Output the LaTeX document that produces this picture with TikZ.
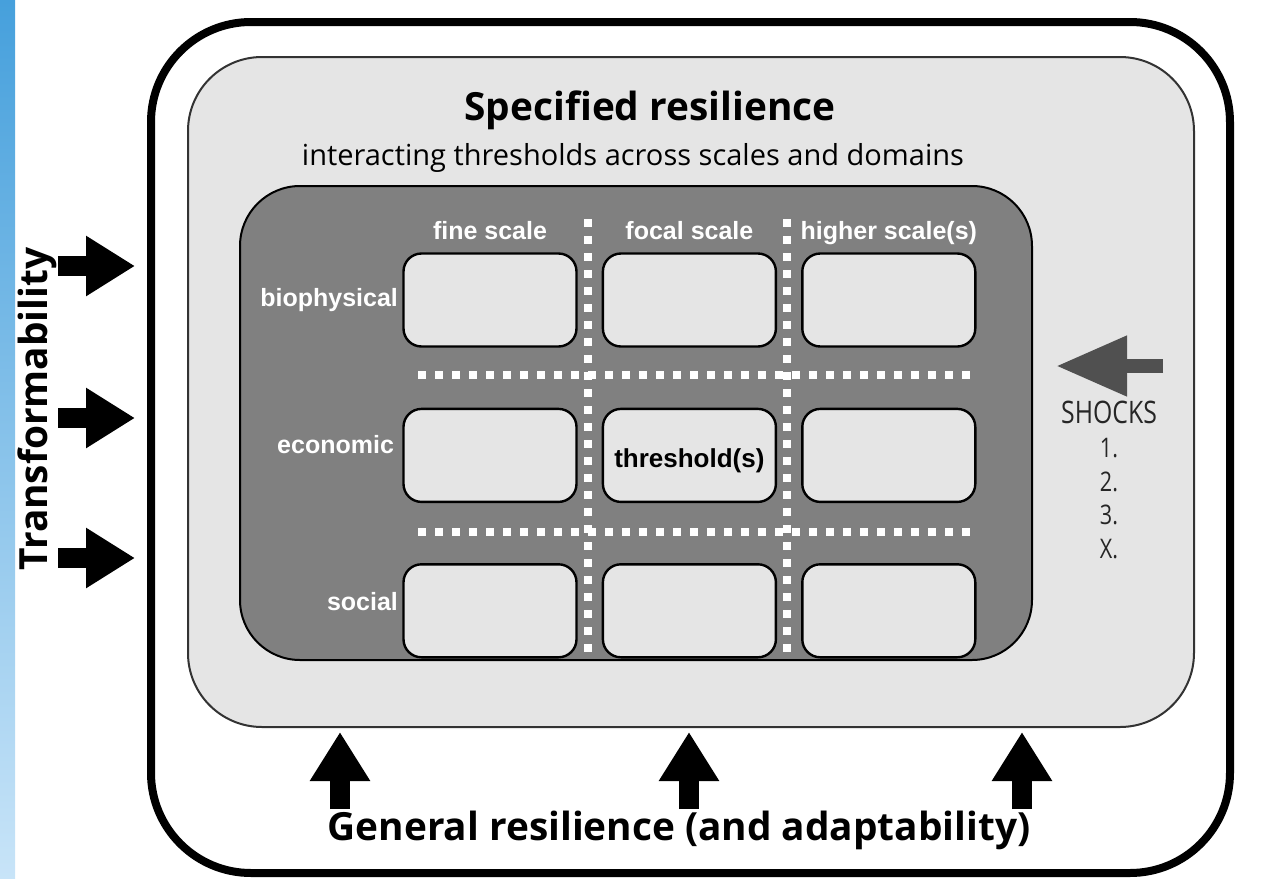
\documentclass[tikz,border=0pt]{standalone}
\usepackage{fontspec}
\setmainfont{Open Sans}
\newfontfamily\arial{Liberation Sans}
\newfontfamily\narrow[FakeStretch=0.8]{Open Sans}
\usetikzlibrary{positioning,arrows.meta}

\definecolor{boxgray}{HTML}{E5E5E5}
\definecolor{midgray}{HTML}{808080}
\definecolor{shockgray}{HTML}{505050}

\begin{document}
\begin{tikzpicture}[x=0.5pt, y=-0.5pt, node distance=30pt and 12pt,
	cell/.style = {draw=black, line width=1.2pt, fill=boxgray, rounded corners=9pt, minimum width=86.5pt, minimum height=46.5pt, inner sep=0pt},
	head/.style = {text=white, inner sep=1pt, text height=9pt, text depth=2.6pt, font=\arial\bfseries\fontsize{12.5}{14}\selectfont},
	dots/.style = {white, line width=4pt, dash pattern=on 4pt off 4.5pt},
	fat/.style = {line width=10pt, -{Triangle[length=24.5pt, width=28.5pt]}},
	big/.style = {font=\bfseries\fontsize{19.4}{23}\selectfont}]
	
	\useasboundingbox (0,0) rectangle (1266,879);
	\shade[top color={rgb,255:red,70;green,160;blue,220}, bottom color={rgb,255:red,200;green,228;blue,248}] (0,0) rectangle (15,879);
	
	% the three nested boxes
	\node[draw, line width=4pt, rounded corners=50pt, minimum width=539.5pt, minimum height=425.5pt] (gen) at (690.5,447.5) {};
	\node[draw=black!80, line width=1pt, fill=boxgray, rounded corners=37pt, minimum width=503pt, minimum height=335pt] (spec) at (691,392) {};
	\node[draw=black, line width=1pt, fill=midgray, rounded corners=30pt, minimum width=396pt, minimum height=237pt] (dom) at (636,423) {};
	
	\node[big] (t1) at (650,110) {Specified resilience};
	\node[font=\fontsize{14.5}{17}\selectfont] (t2) at (633,158) {interacting thresholds across scales and domains};
	
	% grid of scales and domains
	\draw[dots] (588,219) -- (588,658);
	\draw[dots] (787,219) -- (787,658);
	\draw[dots] (418,375) -- (977,375);
	\draw[dots] (418,532) -- (977,532);
	
	\node[cell] (bf) at (490,300) {};
	\node[cell] (bc) [right=of bf] {};
	\node[cell] (bh) [right=of bc] {};
	\node[cell] (ef) [below=of bf] {};
	\node[cell, text height=14.5pt, text depth=2.75pt, font=\arial\bfseries\fontsize{13}{15}\selectfont] (ec) [right=of ef] {threshold(s)};
	\node[cell] (eh) [right=of ec] {};
	\node[cell] (sf) [below=of ef] {};
	\node[cell] (sc) [right=of sf] {};
	\node[cell] (sh) [right=of sc] {};
	
	\node[head] (c1) [above=2.4pt of bf] {fine scale};
	\node[head] (c2) [above=2.4pt of bc] {focal scale};
	\node[head] (c3) [above=2.4pt of bh] {higher scale(s)};
	\node[head] (r1) [left=1pt of bf] {biophysical};
	\node[head] (r2) [left=3pt of ef, yshift=4pt] {economic};
	\node[head] (r3) [left=1pt of sf, yshift=3.5pt] {social};
	
	% shocks from the right
	\coordinate (s) at (1056,366);
	\draw[shockgray, line width=7pt, -{Triangle[length=35.5pt, width=28.5pt]}] ([xshift=53.5pt]s) -- (s);
	\node[align=center, text=black!85, inner sep=0pt, font=\narrow\fontsize{13.5}{16.8}\selectfont] (sk) at (1109,480) {{\fontsize{15.5}{16.8}\selectfont SHOCKS}\\1.\\2.\\3.\\X.};
	
	% transformability and general resilience
	\node[big, rotate=90] (tr) at (37,409) {Transformability};
	\foreach \y [count=\i] in {266,418,558} {
		\coordinate (a\i) at (135,\y);
		\draw[fat] ([xshift=-38.5pt]a\i) -- (a\i);
	}
	\node[big] (gr) at (679,830) {General resilience (and adaptability)};
	\foreach \x [count=\i] in {340,689,1022} {
		\coordinate (u\i) at (\x,732);
		\draw[fat] ([yshift=-38.5pt]u\i) -- (u\i);
	}
\end{tikzpicture}
\end{document}
